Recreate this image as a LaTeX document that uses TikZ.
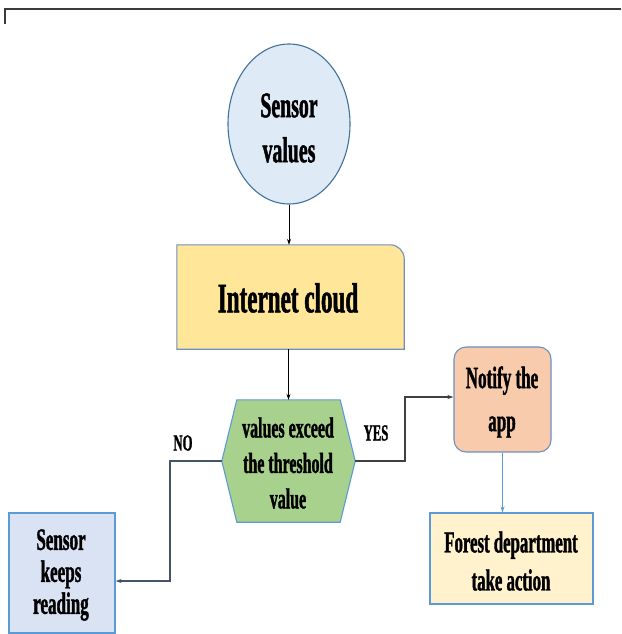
\documentclass[tikz,border=0pt]{standalone}
\usepackage{fontspec}
\newfontfamily\cf{Liberation Serif}[FakeStretch=0.55,FakeBold=1.2]
\usetikzlibrary{arrows.meta,calc,shapes.geometric}
\definecolor{circfill}{HTML}{DEEBF7}
\definecolor{circdraw}{HTML}{41719C}
\definecolor{cloudfill}{HTML}{FFE699}
\definecolor{bluedraw}{HTML}{6F8FBF}
\definecolor{hexfill}{HTML}{A9D18E}
\definecolor{hexdraw}{HTML}{5B9BD5}
\definecolor{notefill}{HTML}{F8CBAD}
\definecolor{forestfill}{HTML}{FFF2CC}
\definecolor{skrfill}{HTML}{DAE3F3}
\definecolor{nodeline}{HTML}{44546A}
\definecolor{yesline}{HTML}{404040}
\definecolor{framec}{HTML}{3A3A3A}
\tikzset{
  txt/.style={font=\cf\bfseries, align=center, inner sep=0pt},
  arr/.style={draw=black, line width=0.8pt, -{Stealth[length=6pt,width=4pt]}},
  shapeline/.style={line width=1.1pt},
}
\begin{document}
\begin{tikzpicture}[x=1pt,y=-1pt]
\useasboundingbox (0,0) rectangle (621,634);
% frame
\draw[framec, line width=1.5pt] (5,24) -- (5,9) -- (621,9);

% Sensor values ellipse
\node[ellipse, draw=circdraw, fill=circfill, shapeline, minimum width=122pt, minimum height=160pt, inner sep=0pt] (sv) at (289,124) {};
\node[txt, font=\cf\bfseries\fontsize{36}{45}\selectfont] (svt) at (289,128) {Sensor\\values};

% Internet cloud
\node[minimum width=227pt, minimum height=104pt, inner sep=0pt] (ic) at (290.5,297) {};
\draw[shapeline, draw=bluedraw, fill=cloudfill]
  (ic.south west) -- (ic.north west) -- ([xshift=-14pt]ic.north east)
  arc[start angle=90, end angle=0, radius=14pt] -- (ic.south east) -- cycle;
\node[txt, font=\cf\bfseries\fontsize{42}{50}\selectfont] (ict) at (288,298) {Internet cloud};

% Hexagon decision
\node[minimum width=133pt, minimum height=122pt, inner sep=0pt] (hex) at (288.5,461) {};
\draw[shapeline, draw=hexdraw, fill=hexfill]
  (hex.west) -- ([xshift=15pt]hex.north west) -- ([xshift=-15pt]hex.north east)
  -- (hex.east) -- ([xshift=-15pt]hex.south east) -- ([xshift=15pt]hex.south west) -- cycle;
\node[txt, font=\cf\bfseries\fontsize{29}{35.5}\selectfont] (hext) at (288,463) {values exceed\\the threshold\\value};

% Notify the app
\node[rounded corners=12pt, draw=bluedraw, fill=notefill, shapeline, minimum width=97pt, minimum height=105pt, inner sep=0pt] (nta) at (502.5,399.5) {};
\node[txt, font=\cf\bfseries\fontsize{31}{43}\selectfont] (ntat) at (502,402) {Notify the\\app};

% Forest department
\node[draw=hexdraw, fill=forestfill, shapeline, minimum width=163pt, minimum height=91pt, inner sep=0pt] (fd) at (511.5,558.5) {};
\node[txt, font=\cf\bfseries\fontsize{30.5}{38}\selectfont] (fdt) at (511,561) {Forest department\\take action};

% Sensor keeps reading
\node[draw=hexdraw, fill=skrfill, shapeline, minimum width=106pt, minimum height=120pt, inner sep=0pt] (skr) at (62,573) {};
\node[txt, font=\cf\bfseries\fontsize{31}{32}\selectfont] (skrt) at (61,575) {Sensor\\keeps\\reading};

% labels
\node[txt, font=\cf\bfseries\fontsize{23}{25}\selectfont] (no) at (183,443) {NO};
\node[txt, font=\cf\bfseries\fontsize{23}{25}\selectfont] (yes) at (376,433) {YES};

% connectors
\draw[arr] (sv.south) -- (sv.south |- ic.north);
\draw[arr] (hex.north |- ic.south) -- (hex.north);
\coordinate (nobend) at (170,461);
\draw[arr, draw=nodeline, line width=1.3pt] (hex.west) -- (nobend) |- ([yshift=-8pt]skr.east);
\coordinate (yesbend) at (405,461);
\draw[arr, draw=yesline, line width=1.3pt] (hex.east) -- (yesbend) |- ([yshift=2.5pt]nta.west);
\draw[arr, draw=hexdraw] (nta.south) -- (nta.south |- fd.north);
\end{tikzpicture}
\end{document}
